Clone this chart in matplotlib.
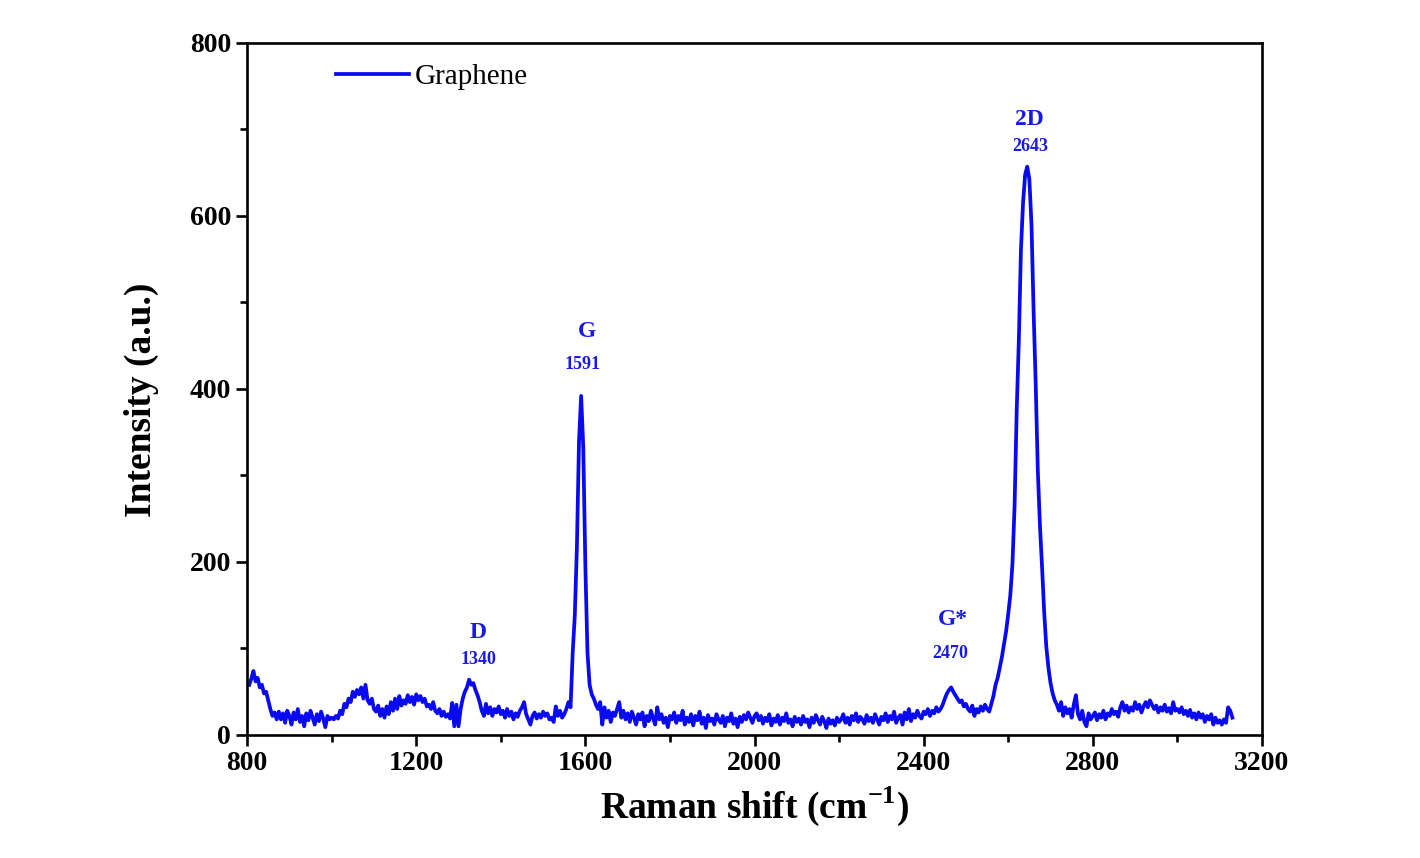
import matplotlib
matplotlib.use("Agg")
import matplotlib.pyplot as plt
from matplotlib.ticker import MultipleLocator
import numpy as np

plt.rcParams['font.family'] = ['Liberation Serif', 'DejaVu Serif']
plt.rcParams['mathtext.fontset'] = 'custom'
plt.rcParams['mathtext.rm'] = 'Liberation Serif:bold'
plt.rcParams['mathtext.bf'] = 'Liberation Serif:bold'

# Raman shift grid (cm-1), step 5, from 805 to 3130
shift_start = 805
shift_step = 5

# intensity, one row per 100 cm-1
intensity = [
    58, 65, 74, 62, 66, 55, 58, 48, 50, 40, 30, 22, 26, 18, 27, 18, 25, 14, 28, 22,      # 805-900
    12, 26, 18, 30, 15, 22, 10, 25, 17, 28, 20, 12, 24, 16, 27, 19, 9, 22, 18, 20,       # 905-1000
    18, 22, 19, 28, 24, 36, 32, 42, 38, 50, 44, 52, 47, 55, 42, 58, 40, 36, 42, 30,      # 1005-1100
    27, 34, 22, 30, 20, 33, 24, 38, 28, 42, 30, 45, 34, 40, 36, 46, 38, 44, 35, 47,      # 1105-1200
    40, 45, 38, 42, 33, 35, 30, 38, 28, 25, 30, 22, 27, 21, 24, 19, 37, 10, 35, 10,      # 1205-1300
    30, 42, 50, 55, 64, 58, 60, 52, 46, 38, 28, 22, 36, 25, 32, 22, 30, 26, 33, 24,      # 1305-1400
    28, 20, 30, 22, 27, 18, 25, 21, 28, 32, 38, 24, 18, 12, 22, 26, 19, 24, 20, 27,      # 1405-1500
    22, 25, 18, 20, 15, 33, 22, 28, 20, 24, 30, 38, 32, 95, 138, 218, 340, 392, 333, 195,  # 1505-1600
    95, 58, 47, 42, 35, 30, 38, 12, 32, 20, 28, 15, 26, 22, 30, 38, 20, 28, 18, 25,      # 1605-1700
    15, 27, 20, 12, 24, 18, 26, 10, 22, 16, 28, 19, 12, 32, 18, 24, 14, 20, 9, 22,       # 1705-1800
    18, 26, 14, 22, 17, 28, 12, 20, 15, 24, 11, 22, 17, 27, 13, 20, 8, 23, 16, 19,       # 1805-1900
    12, 24, 18, 14, 22, 10, 20, 16, 25, 13, 19, 9, 21, 15, 23, 18, 26, 20, 14, 22,       # 1905-2000
    25, 17, 22, 13, 20, 16, 24, 11, 19, 15, 23, 12, 20, 16, 25, 14, 18, 10, 21, 15,      # 2005-2100
    19, 12, 22, 15, 18, 9, 20, 14, 23, 17, 12, 21, 16, 8, 19, 13, 17, 11, 20, 15,        # 2105-2200
    18, 24, 14, 20, 12, 22, 17, 25, 15, 21, 18, 13, 23, 16, 20, 14, 24, 18, 12, 21,      # 2205-2300
    17, 25, 15, 22, 18, 27, 14, 20, 23, 12, 26, 18, 30, 16, 24, 20, 28, 22, 19, 27,      # 2305-2400
    24, 30, 22, 28, 25, 32, 27, 30, 35, 42, 48, 52, 55, 50, 46, 42, 38, 40, 33, 36,      # 2405-2500
    30, 27, 34, 22, 30, 26, 33, 28, 35, 30, 27, 36, 45, 58, 66, 78, 90, 105, 120, 140,   # 2505-2600
    162, 198, 265, 375, 455, 560, 615, 648, 657, 642, 590, 490, 405, 305, 242, 194, 142, 102, 78, 60,  # 2605-2700
    48, 40, 35, 28, 38, 22, 32, 25, 30, 20, 35, 46, 24, 18, 28, 15, 10, 25, 18, 22,      # 2705-2800
    26, 17, 24, 20, 28, 18, 25, 22, 30, 24, 27, 21, 32, 38, 28, 34, 26, 32, 28, 38,      # 2805-2900
    30, 35, 26, 33, 38, 32, 40, 35, 30, 34, 26, 32, 28, 35, 27, 31, 25, 38, 28, 30,      # 2905-3000
    26, 32, 24, 28, 22, 29, 20, 25, 18, 26, 20, 24, 15, 22, 18, 24, 12, 20, 14, 17,      # 3005-3100
    12, 18, 14, 32, 28, 20,                                                              # 3105-3130
]
raman_shift = shift_start + shift_step * np.arange(len(intensity))

series_name = 'Graphene'

# peak labels: name, position text, anchor (x, y) in data units
peak_names = ['D', 'G', 'G*', '2D']
peak_values = ['1340', '1591', '2470', '2643']
peak_name_xy = [(1346, 119), (1604, 466), (2469, 134), (2651, 712)]
peak_value_xy = [(1346, 87), (1594, 428), (2462, 94), (2651, 680)]

fig = plt.figure(figsize=(14.2, 8.58), dpi=100)
ax = fig.add_axes([0.174, 0.1434, 0.7147, 0.8065])

ax.plot(raman_shift, intensity, color='#0a0af0', linewidth=2.7, label=series_name)

for name, value, nxy, vxy in zip(peak_names, peak_values, peak_name_xy, peak_value_xy):
    ax.text(nxy[0], nxy[1], name, color='#1a1ae6', fontsize=17, fontweight='bold',
            ha='center', va='center')
    ax.text(vxy[0], vxy[1], value, color='#1a1ae6', fontsize=13, fontweight='bold',
            ha='center', va='center')

ax.set_xlim(800, 3200)
ax.set_ylim(0, 800)
ax.xaxis.set_major_locator(MultipleLocator(400))
ax.xaxis.set_minor_locator(MultipleLocator(200))
ax.yaxis.set_major_locator(MultipleLocator(200))
ax.yaxis.set_minor_locator(MultipleLocator(100))

for s in ax.spines.values():
    s.set_linewidth(1.9)
ax.tick_params(which='major', direction='out', length=8, width=1.9, labelsize=20)
ax.tick_params(which='minor', direction='out', length=5, width=1.9)
ax.tick_params(top=False, right=False, which='both')
for lbl in ax.get_xticklabels() + ax.get_yticklabels():
    lbl.set_fontweight('bold')

ax.set_xlabel('Raman shift (cm$^{-1}$)', fontsize=27, fontweight='bold', labelpad=6)
ax.set_ylabel('Intensity (a.u.)', fontsize=27, fontweight='bold')
ax.yaxis.set_label_coords(-0.087, 0.485)

leg = ax.legend(loc='upper left', bbox_to_anchor=(0.062, 1.008), frameon=False,
                fontsize=21, handlelength=2.5, handletextpad=0.2)

fig.savefig('out.png', dpi=100)
